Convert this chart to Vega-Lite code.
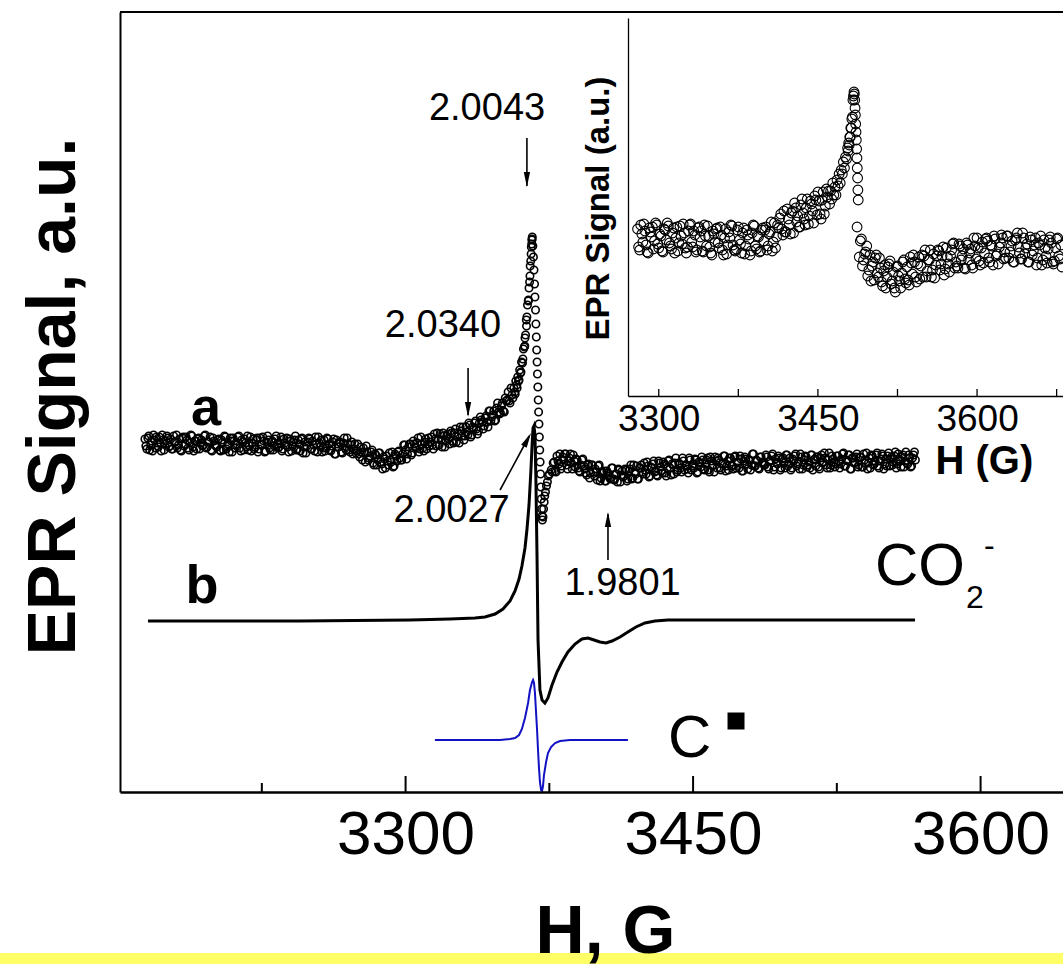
{
"$schema":"https://vega.github.io/schema/vega-lite/v6.json",
"width":943,"height":780,
"autosize":{"type":"none"},
"padding":{"left":120,"top":12,"right":0,"bottom":172},
"background":"white",
"config":{"view":{"stroke":null},"font":"Liberation Sans","axis":{"grid":false,"domainColor":"black","labelColor":"black","titleColor":"black","tickColor":"black"}},
"datasets":{
"a":[
{"H":3164,"v":353},{"H":3165,"v":343},{"H":3166,"v":356},{"H":3167,"v":347},{"H":3168,"v":341},{"H":3169,"v":352},{"H":3170,"v":355},{"H":3171,"v":345},{"H":3172,"v":349},{"H":3173,"v":357},{"H":3174,"v":342},{"H":3175,"v":351},{"H":3176,"v":354},{"H":3177,"v":346},{"H":3178,"v":343},{"H":3179,"v":356},{"H":3180,"v":350},{"H":3181,"v":344},{"H":3182,"v":353},{"H":3183,"v":341},{"H":3184,"v":355},{"H":3185,"v":348},{"H":3186,"v":352},{"H":3187,"v":342},{"H":3188,"v":357},{"H":3189,"v":345},{"H":3190,"v":351},{"H":3191,"v":343},{"H":3192,"v":354},{"H":3193,"v":349},{"H":3194,"v":346},{"H":3195,"v":356},{"H":3196,"v":344},{"H":3197,"v":350},{"H":3198,"v":355},{"H":3199,"v":341},
{"H":3200,"v":351},{"H":3201,"v":346},{"H":3202,"v":352},{"H":3203,"v":342},{"H":3204,"v":352},{"H":3205,"v":342},{"H":3206,"v":355},{"H":3207,"v":346},{"H":3208,"v":340},{"H":3209,"v":351},{"H":3210,"v":354},{"H":3211,"v":344},{"H":3212,"v":348},{"H":3213,"v":356},{"H":3214,"v":341},{"H":3215,"v":350},{"H":3216,"v":353},{"H":3217,"v":345},{"H":3218,"v":342},{"H":3219,"v":355},{"H":3220,"v":349},{"H":3221,"v":343},{"H":3222,"v":352},{"H":3223,"v":340},{"H":3224,"v":354},{"H":3225,"v":347},{"H":3226,"v":351},{"H":3227,"v":341},{"H":3228,"v":356},{"H":3229,"v":344},{"H":3230,"v":350},{"H":3231,"v":342},{"H":3232,"v":353},{"H":3233,"v":348},{"H":3234,"v":345},{"H":3235,"v":355},{"H":3236,"v":343},{"H":3237,"v":349},{"H":3238,"v":354},{"H":3239,"v":340},{"H":3240,"v":351},{"H":3241,"v":346},{"H":3242,"v":352},{"H":3243,"v":342},{"H":3244,"v":352},
{"H":3245,"v":341},{"H":3246,"v":354},{"H":3247,"v":345},{"H":3248,"v":339},{"H":3249,"v":350},{"H":3250,"v":353},{"H":3251,"v":343},{"H":3252,"v":347},{"H":3253,"v":355},{"H":3254,"v":340},{"H":3255,"v":349},{"H":3256,"v":352},{"H":3257,"v":344},{"H":3258,"v":341},{"H":3259,"v":354},{"H":3260,"v":348},{"H":3261,"v":341},{"H":3262,"v":350},{"H":3263,"v":338},{"H":3264,"v":352},{"H":3265,"v":345},{"H":3266,"v":349},{"H":3267,"v":339},{"H":3268,"v":354},{"H":3269,"v":342},{"H":3270,"v":348},{"H":3271,"v":340},
{"H":3272,"v":350},{"H":3273,"v":343},{"H":3274,"v":339},{"H":3275,"v":348},{"H":3276,"v":335},{"H":3277,"v":340},{"H":3278,"v":344},{"H":3279,"v":330},{"H":3280,"v":340},{"H":3281,"v":334},{"H":3282,"v":340},{"H":3283,"v":329},{"H":3284,"v":338},{"H":3285,"v":327},{"H":3286,"v":339},{"H":3287,"v":330},{"H":3288,"v":323},{"H":3289,"v":333},{"H":3290,"v":336},{"H":3291,"v":327},{"H":3292,"v":332},{"H":3293,"v":340},{"H":3294,"v":326},{"H":3295,"v":336},{"H":3296,"v":340},{"H":3297,"v":334},{"H":3298,"v":332},{"H":3299,"v":347},{"H":3300,"v":342},{"H":3301,"v":338},{"H":3302,"v":348},{"H":3303,"v":337},{"H":3304,"v":351},{"H":3305,"v":345},{"H":3306,"v":349},{"H":3307,"v":340},{"H":3308,"v":355},{"H":3309,"v":344},{"H":3310,"v":350},{"H":3311,"v":343},{"H":3312,"v":354},{"H":3313,"v":350},{"H":3314,"v":347},{"H":3315,"v":358},{"H":3316,"v":346},{"H":3317,"v":353},{"H":3318,"v":358},{"H":3319,"v":345},{"H":3320,"v":356},{"H":3321,"v":351},{"H":3322,"v":358},{"H":3323,"v":348},{"H":3324,"v":359},{"H":3325,"v":349},{"H":3326,"v":363},{"H":3327,"v":355},{"H":3328,"v":349},{"H":3329,"v":361},{"H":3330,"v":365},{"H":3331,"v":356},{"H":3332,"v":360},{"H":3333,"v":369},{"H":3334,"v":355},{"H":3335,"v":365},{"H":3336,"v":369},{"H":3337,"v":363},{"H":3338,"v":361},{"H":3339,"v":375},{"H":3340,"v":370},{"H":3341,"v":366},{"H":3342,"v":376},{"H":3343,"v":365},{"H":3344,"v":381},{"H":3345,"v":375},{"H":3346,"v":381},{"H":3347,"v":372},{"H":3348,"v":389},{"H":3349,"v":378},{"H":3350,"v":386},{"H":3351,"v":381},{"H":3352,"v":394},{"H":3353,"v":392},{"H":3354,"v":391},{"H":3355,"v":404},{"H":3356,"v":394},
{"H":3356.5,"v":404},{"H":3357,"v":400},{"H":3357.2,"v":398},{"H":3357.5,"v":411},{"H":3358,"v":407},{"H":3358.2,"v":404},{"H":3358.5,"v":415},{"H":3359,"v":411},{"H":3359.2,"v":412},{"H":3359.5,"v":422},{"H":3360,"v":419},{"H":3360.2,"v":420},{"H":3360.5,"v":430},{"H":3361,"v":429},{"H":3361.2,"v":433},{"H":3361.5,"v":443},{"H":3362,"v":445},{"H":3362.2,"v":446},{"H":3362.3,"v":454},{"H":3362.6,"v":457},{"H":3363,"v":472},{"H":3363.1,"v":466},{"H":3363.3,"v":475},{"H":3363.6,"v":487},{"H":3364,"v":491},{"H":3364.1,"v":492},{"H":3364.4,"v":504},{"H":3364.7,"v":510},{"H":3364.9,"v":516},{"H":3365,"v":526},{"H":3365.3,"v":531},{"H":3365.5,"v":538},{"H":3365.6,"v":545},{"H":3365.8,"v":548},{"H":3365.9,"v":552},{"H":3366,"v":553},{"H":3366.1,"v":555},
{"H":3366.4,"v":546},{"H":3366.7,"v":535},{"H":3367,"v":522},{"H":3367.3,"v":508},{"H":3367.5,"v":495},{"H":3367.8,"v":482},{"H":3368,"v":468},{"H":3368.2,"v":455},{"H":3368.4,"v":442},{"H":3368.6,"v":430},{"H":3368.8,"v":418},{"H":3369,"v":405},{"H":3369.2,"v":392},{"H":3369.4,"v":380},{"H":3369.6,"v":368},{"H":3369.8,"v":355},{"H":3370,"v":342},{"H":3370.2,"v":330},{"H":3370.4,"v":318},{"H":3370.6,"v":305},{"H":3370.8,"v":293},{"H":3371,"v":283},{"H":3371.2,"v":276},{"H":3371.4,"v":272},
{"H":3371.7,"v":275},{"H":3372,"v":283},{"H":3372.3,"v":290},{"H":3372.6,"v":296},{"H":3373,"v":300},{"H":3373.5,"v":306},{"H":3374,"v":310},{"H":3374.5,"v":316},{"H":3375,"v":318},{"H":3376,"v":322},
{"H":3377,"v":329},{"H":3378,"v":321},{"H":3379,"v":336},{"H":3380,"v":328},{"H":3381,"v":323},{"H":3382,"v":335},{"H":3383,"v":338},{"H":3384,"v":327},{"H":3385,"v":331},{"H":3386,"v":338},{"H":3387,"v":323},{"H":3388,"v":331},{"H":3389,"v":333},{"H":3390,"v":324},{"H":3391,"v":320},{"H":3392,"v":332},{"H":3393,"v":326},{"H":3394,"v":319},{"H":3395,"v":327},{"H":3396,"v":314},{"H":3397,"v":327},{"H":3398,"v":320},{"H":3399,"v":323},{"H":3400,"v":312},{"H":3401,"v":327},{"H":3402,"v":314},{"H":3403,"v":319},{"H":3404,"v":311},{"H":3405,"v":321},{"H":3406,"v":316},{"H":3407,"v":313},{"H":3408,"v":324},{"H":3409,"v":312},{"H":3410,"v":318},{"H":3411,"v":323},{"H":3412,"v":310},{"H":3413,"v":321},{"H":3414,"v":316},{"H":3415,"v":322},{"H":3416,"v":313},{"H":3417,"v":323},{"H":3418,"v":313},{"H":3419,"v":327},{"H":3420,"v":318},{"H":3421,"v":313},{"H":3422,"v":324},{"H":3423,"v":327},{"H":3424,"v":318},{"H":3425,"v":322},
{"H":3426,"v":330},{"H":3427,"v":315},{"H":3428,"v":325},{"H":3429,"v":328},{"H":3430,"v":320},{"H":3431,"v":317},{"H":3432,"v":331},{"H":3433,"v":325},{"H":3434,"v":319},{"H":3435,"v":328},{"H":3436,"v":316},{"H":3437,"v":331},{"H":3438,"v":324},{"H":3439,"v":328},{"H":3440,"v":318},{"H":3441,"v":334},{"H":3442,"v":322},{"H":3443,"v":328},{"H":3444,"v":320},{"H":3445,"v":331},{"H":3446,"v":326},{"H":3447,"v":323},{"H":3448,"v":334},{"H":3449,"v":322},{"H":3450,"v":328},{"H":3451,"v":333},{"H":3452,"v":319},{"H":3453,"v":330},{"H":3454,"v":325},
{"H":3455,"v":332},{"H":3456,"v":322},{"H":3457,"v":332},{"H":3458,"v":322},{"H":3459,"v":335},{"H":3460,"v":326},{"H":3461,"v":320},{"H":3462,"v":331},{"H":3463,"v":334},{"H":3464,"v":324},{"H":3465,"v":328},{"H":3466,"v":336},{"H":3467,"v":321},{"H":3468,"v":331},{"H":3469,"v":334},{"H":3470,"v":326},{"H":3471,"v":323},{"H":3472,"v":336},{"H":3473,"v":330},{"H":3474,"v":324},{"H":3475,"v":333},{"H":3476,"v":321},{"H":3477,"v":335},{"H":3478,"v":328},{"H":3479,"v":332},{"H":3480,"v":322},{"H":3481,"v":338},{"H":3482,"v":326},{"H":3483,"v":332},{"H":3484,"v":324},{"H":3485,"v":335},{"H":3486,"v":330},{"H":3487,"v":327},{"H":3488,"v":337},{"H":3489,"v":325},{"H":3490,"v":331},{"H":3491,"v":336},{"H":3492,"v":322},
{"H":3493,"v":333},{"H":3494,"v":328},{"H":3495,"v":334},{"H":3496,"v":324},{"H":3497,"v":334},{"H":3498,"v":324},{"H":3499,"v":337},{"H":3500,"v":328},{"H":3501,"v":322},{"H":3502,"v":333},{"H":3503,"v":336},{"H":3504,"v":326},{"H":3505,"v":330},{"H":3506,"v":338},{"H":3507,"v":323},{"H":3508,"v":332},{"H":3509,"v":335},{"H":3510,"v":327},{"H":3511,"v":324},{"H":3512,"v":337},{"H":3513,"v":332},{"H":3514,"v":326},{"H":3515,"v":335},{"H":3516,"v":323},{"H":3517,"v":337},{"H":3518,"v":330},{"H":3519,"v":334},{"H":3520,"v":324},{"H":3521,"v":339},{"H":3522,"v":327},{"H":3523,"v":333},{"H":3524,"v":325},{"H":3525,"v":336},{"H":3526,"v":331},{"H":3527,"v":328},{"H":3528,"v":338},{"H":3529,"v":326},{"H":3530,"v":332},{"H":3531,"v":337},{"H":3532,"v":323},
{"H":3533,"v":334},{"H":3534,"v":329},{"H":3535,"v":335},{"H":3536,"v":325},{"H":3537,"v":335},{"H":3538,"v":325},{"H":3539,"v":338},{"H":3540,"v":329},{"H":3541,"v":323},{"H":3542,"v":334},{"H":3543,"v":337},{"H":3544,"v":327},{"H":3545,"v":331},{"H":3546,"v":339},{"H":3547,"v":324},{"H":3548,"v":333},{"H":3549,"v":336},{"H":3550,"v":328},{"H":3551,"v":326},{"H":3552,"v":339},{"H":3553,"v":333},{"H":3554,"v":327},{"H":3555,"v":336},{"H":3556,"v":324},{"H":3557,"v":338},{"H":3558,"v":331},{"H":3559,"v":335},{"H":3560,"v":325},{"H":3561,"v":340},{"H":3562,"v":328},{"H":3563,"v":334},{"H":3564,"v":326},{"H":3565,"v":337},{"H":3566,"v":332}
],
"a2":[
{"H":3164.5,"v":346},{"H":3165.5,"v":354},{"H":3166.5,"v":342},{"H":3167.5,"v":351},{"H":3168.5,"v":357},{"H":3169.5,"v":344},{"H":3170.5,"v":349},{"H":3171.5,"v":355},{"H":3172.5,"v":341},{"H":3173.5,"v":352},{"H":3174.5,"v":348},{"H":3175.5,"v":356},{"H":3176.5,"v":345},{"H":3177.5,"v":353},{"H":3178.5,"v":343},{"H":3179.5,"v":350},{"H":3180.5,"v":357},{"H":3181.5,"v":347},{"H":3182.5,"v":342},{"H":3183.5,"v":354},{"H":3184.5,"v":346},{"H":3185.5,"v":355},{"H":3186.5,"v":344},{"H":3187.5,"v":349},{"H":3188.5,"v":356},{"H":3189.5,"v":341},{"H":3190.5,"v":351},{"H":3191.5,"v":353},{"H":3192.5,"v":343},{"H":3193.5,"v":352},{"H":3194.5,"v":347},{"H":3195.5,"v":357},{"H":3196.5,"v":345},{"H":3197.5,"v":350},{"H":3198.5,"v":342},{"H":3199.5,"v":354},
{"H":3200.5,"v":347},{"H":3201.5,"v":345},{"H":3202.5,"v":353},{"H":3203.5,"v":341},{"H":3204.5,"v":350},{"H":3205.5,"v":356},{"H":3206.5,"v":343},{"H":3207.5,"v":348},{"H":3208.5,"v":354},{"H":3209.5,"v":340},{"H":3210.5,"v":351},{"H":3211.5,"v":347},{"H":3212.5,"v":355},{"H":3213.5,"v":344},{"H":3214.5,"v":352},{"H":3215.5,"v":342},{"H":3216.5,"v":349},{"H":3217.5,"v":356},{"H":3218.5,"v":346},{"H":3219.5,"v":341},{"H":3220.5,"v":353},{"H":3221.5,"v":345},{"H":3222.5,"v":354},{"H":3223.5,"v":343},{"H":3224.5,"v":348},{"H":3225.5,"v":355},{"H":3226.5,"v":340},{"H":3227.5,"v":350},{"H":3228.5,"v":352},{"H":3229.5,"v":342},{"H":3230.5,"v":351},{"H":3231.5,"v":346},{"H":3232.5,"v":356},{"H":3233.5,"v":344},{"H":3234.5,"v":349},{"H":3235.5,"v":341},{"H":3236.5,"v":353},{"H":3237.5,"v":347},{"H":3238.5,"v":345},{"H":3239.5,"v":353},{"H":3240.5,"v":341},{"H":3241.5,"v":350},{"H":3242.5,"v":356},{"H":3243.5,"v":343},{"H":3244.5,"v":348},
{"H":3245.5,"v":353},{"H":3246.5,"v":339},{"H":3247.5,"v":350},{"H":3248.5,"v":346},{"H":3249.5,"v":354},{"H":3250.5,"v":343},{"H":3251.5,"v":351},{"H":3252.5,"v":341},{"H":3253.5,"v":348},{"H":3254.5,"v":355},{"H":3255.5,"v":345},{"H":3256.5,"v":340},{"H":3257.5,"v":352},{"H":3258.5,"v":344},{"H":3259.5,"v":353},{"H":3260.5,"v":342},{"H":3261.5,"v":346},{"H":3262.5,"v":353},{"H":3263.5,"v":338},{"H":3264.5,"v":348},{"H":3265.5,"v":350},{"H":3266.5,"v":340},{"H":3267.5,"v":349},{"H":3268.5,"v":344},{"H":3269.5,"v":354},{"H":3270.5,"v":342},{"H":3271.5,"v":347},
{"H":3272.5,"v":338},{"H":3273.5,"v":348},{"H":3274.5,"v":341},{"H":3275.5,"v":338},{"H":3276.5,"v":345},{"H":3277.5,"v":332},{"H":3278.5,"v":340},{"H":3279.5,"v":346},{"H":3280.5,"v":332},{"H":3281.5,"v":336},{"H":3282.5,"v":342},{"H":3283.5,"v":327},{"H":3284.5,"v":337},{"H":3285.5,"v":332},{"H":3286.5,"v":339},{"H":3287.5,"v":328},{"H":3288.5,"v":335},{"H":3289.5,"v":324},{"H":3290.5,"v":331},{"H":3291.5,"v":339},{"H":3292.5,"v":330},{"H":3293.5,"v":325},{"H":3294.5,"v":338},{"H":3295.5,"v":331},{"H":3296.5,"v":341},{"H":3297.5,"v":332},{"H":3298.5,"v":338},{"H":3299.5,"v":347},{"H":3300.5,"v":333},{"H":3301.5,"v":345},{"H":3302.5,"v":348},{"H":3303.5,"v":339},{"H":3304.5,"v":348},{"H":3305.5,"v":344},{"H":3306.5,"v":354},{"H":3307.5,"v":343},{"H":3308.5,"v":348},{"H":3309.5,"v":341},{"H":3310.5,"v":353},{"H":3311.5,"v":348},{"H":3312.5,"v":346},{"H":3313.5,"v":355},{"H":3314.5,"v":343},{"H":3315.5,"v":353},{"H":3316.5,"v":359},{"H":3317.5,"v":347},{"H":3318.5,"v":352},{"H":3319.5,"v":359},{"H":3320.5,"v":345},{"H":3321.5,"v":356},{"H":3322.5,"v":353},{"H":3323.5,"v":361},{"H":3324.5,"v":351},{"H":3325.5,"v":359},{"H":3326.5,"v":350},{"H":3327.5,"v":358},{"H":3328.5,"v":365},{"H":3329.5,"v":356},{"H":3330.5,"v":352},{"H":3331.5,"v":365},{"H":3332.5,"v":357},{"H":3333.5,"v":367},{"H":3334.5,"v":357},{"H":3335.5,"v":363},{"H":3336.5,"v":371},{"H":3337.5,"v":358},{"H":3338.5,"v":369},{"H":3339.5,"v":372},{"H":3340.5,"v":363},{"H":3341.5,"v":374},{"H":3342.5,"v":370},{"H":3343.5,"v":381},{"H":3344.5,"v":371},{"H":3345.5,"v":377},{"H":3346.5,"v":371},{"H":3347.5,"v":384},{"H":3348.5,"v":380},{"H":3349.5,"v":379},{"H":3350.5,"v":389},{"H":3351.5,"v":380},{"H":3352.5,"v":391},{"H":3353.5,"v":400},{"H":3354.5,"v":389},{"H":3355.5,"v":397},
{"H":3376.5,"v":320},{"H":3377.5,"v":330},{"H":3378.5,"v":320},{"H":3379.5,"v":331},{"H":3380.5,"v":338},{"H":3381.5,"v":326},{"H":3382.5,"v":332},{"H":3383.5,"v":338},{"H":3384.5,"v":323},{"H":3385.5,"v":334},{"H":3386.5,"v":329},{"H":3387.5,"v":337},{"H":3388.5,"v":325},{"H":3389.5,"v":332},{"H":3390.5,"v":321},{"H":3391.5,"v":327},{"H":3392.5,"v":333},{"H":3393.5,"v":323},{"H":3394.5,"v":317},{"H":3395.5,"v":328},{"H":3396.5,"v":319},{"H":3397.5,"v":327},{"H":3398.5,"v":316},{"H":3399.5,"v":320},{"H":3400.5,"v":326},{"H":3401.5,"v":311},{"H":3402.5,"v":320},{"H":3403.5,"v":321},{"H":3404.5,"v":311},{"H":3405.5,"v":319},{"H":3406.5,"v":314},{"H":3407.5,"v":324},{"H":3408.5,"v":313},{"H":3409.5,"v":318},{"H":3410.5,"v":310},{"H":3411.5,"v":322},{"H":3412.5,"v":317},{"H":3413.5,"v":315},{"H":3414.5,"v":323},{"H":3415.5,"v":311},{"H":3416.5,"v":321},{"H":3417.5,"v":327},{"H":3418.5,"v":314},{"H":3419.5,"v":320},{"H":3420.5,"v":326},{"H":3421.5,"v":313},{"H":3422.5,"v":324},{"H":3423.5,"v":320},{"H":3424.5,"v":329},{"H":3425.5,"v":318},{"H":3426.5,"v":326},{"H":3427.5,"v":316},{"H":3428.5,"v":324},{"H":3429.5,"v":331},{"H":3430.5,"v":321},{"H":3431.5,"v":316},{"H":3432.5,"v":329},{"H":3433.5,"v":321},{"H":3434.5,"v":330},{"H":3435.5,"v":319},{"H":3436.5,"v":324},{"H":3437.5,"v":332},{"H":3438.5,"v":317},{"H":3439.5,"v":327},{"H":3440.5,"v":329},{"H":3441.5,"v":320},{"H":3442.5,"v":329},{"H":3443.5,"v":324},{"H":3444.5,"v":334},{"H":3445.5,"v":322},{"H":3446.5,"v":327},{"H":3447.5,"v":319},{"H":3448.5,"v":332},{"H":3449.5,"v":326},{"H":3450.5,"v":324},{"H":3451.5,"v":332},{"H":3452.5,"v":320},{"H":3453.5,"v":329},{"H":3454.5,"v":335},
{"H":3455.5,"v":323},{"H":3456.5,"v":328},{"H":3457.5,"v":334},{"H":3458.5,"v":320},{"H":3459.5,"v":331},{"H":3460.5,"v":327},{"H":3461.5,"v":335},{"H":3462.5,"v":324},{"H":3463.5,"v":332},{"H":3464.5,"v":322},{"H":3465.5,"v":329},{"H":3466.5,"v":336},{"H":3467.5,"v":326},{"H":3468.5,"v":322},{"H":3469.5,"v":334},{"H":3470.5,"v":326},{"H":3471.5,"v":335},{"H":3472.5,"v":324},{"H":3473.5,"v":329},{"H":3474.5,"v":336},{"H":3475.5,"v":321},{"H":3476.5,"v":331},{"H":3477.5,"v":333},{"H":3478.5,"v":323},{"H":3479.5,"v":332},{"H":3480.5,"v":327},{"H":3481.5,"v":338},{"H":3482.5,"v":326},{"H":3483.5,"v":331},{"H":3484.5,"v":323},{"H":3485.5,"v":335},{"H":3486.5,"v":329},{"H":3487.5,"v":327},{"H":3488.5,"v":335},{"H":3489.5,"v":323},{"H":3490.5,"v":332},{"H":3491.5,"v":338},{"H":3492.5,"v":325},{"H":3493.5,"v":330},{"H":3494.5,"v":336},{"H":3495.5,"v":322},{"H":3496.5,"v":333},{"H":3497.5,"v":329},{"H":3498.5,"v":337},{"H":3499.5,"v":326},{"H":3500.5,"v":334},{"H":3501.5,"v":324},{"H":3502.5,"v":331},{"H":3503.5,"v":338},{"H":3504.5,"v":328},{"H":3505.5,"v":323},{"H":3506.5,"v":335},{"H":3507.5,"v":327},{"H":3508.5,"v":336},{"H":3509.5,"v":325},{"H":3510.5,"v":330},{"H":3511.5,"v":337},{"H":3512.5,"v":322},
{"H":3513.5,"v":333},{"H":3514.5,"v":335},{"H":3515.5,"v":325},{"H":3516.5,"v":334},{"H":3517.5,"v":329},{"H":3518.5,"v":339},{"H":3519.5,"v":327},{"H":3520.5,"v":332},{"H":3521.5,"v":324},{"H":3522.5,"v":336},{"H":3523.5,"v":330},{"H":3524.5,"v":328},{"H":3525.5,"v":336},{"H":3526.5,"v":324},{"H":3527.5,"v":333},{"H":3528.5,"v":339},{"H":3529.5,"v":326},{"H":3530.5,"v":331},{"H":3531.5,"v":337},{"H":3532.5,"v":323},{"H":3533.5,"v":334},{"H":3534.5,"v":330},{"H":3535.5,"v":338},{"H":3536.5,"v":327},{"H":3537.5,"v":335},{"H":3538.5,"v":325},{"H":3539.5,"v":332},{"H":3540.5,"v":339},{"H":3541.5,"v":329},{"H":3542.5,"v":324},{"H":3543.5,"v":336},{"H":3544.5,"v":328},{"H":3545.5,"v":337},{"H":3546.5,"v":326},{"H":3547.5,"v":331},{"H":3548.5,"v":338},{"H":3549.5,"v":323},{"H":3550.5,"v":333},{"H":3551.5,"v":336},{"H":3552.5,"v":326},{"H":3553.5,"v":335},{"H":3554.5,"v":330},{"H":3555.5,"v":340},{"H":3556.5,"v":328},{"H":3557.5,"v":333},{"H":3558.5,"v":325},{"H":3559.5,"v":337},{"H":3560.5,"v":331},{"H":3561.5,"v":329},{"H":3562.5,"v":337},{"H":3563.5,"v":325},{"H":3564.5,"v":334},{"H":3565.5,"v":340}
],
"b":[
{"H":3165.6,"v":171},{"H":3244.9,"v":171},{"H":3302.3,"v":172},{"H":3323.2,"v":173},{"H":3336.2,"v":174},{"H":3341.4,"v":175},{"H":3346.7,"v":178},{"H":3350.8,"v":183},{"H":3354.5,"v":191},{"H":3357.1,"v":201},{"H":3359.2,"v":213},{"H":3360.7,"v":226},{"H":3362.3,"v":244},{"H":3363.3,"v":262},{"H":3364.4,"v":287},{"H":3365.4,"v":322},{"H":3366.0,"v":347},{"H":3366.5,"v":364},{"H":3367.0,"v":366},{"H":3367.5,"v":357},{"H":3368.0,"v":312},{"H":3368.6,"v":232},{"H":3369.1,"v":152},{"H":3370.1,"v":102},{"H":3371.2,"v":92},{"H":3372.7,"v":89},{"H":3374.3,"v":94},{"H":3376.4,"v":107},{"H":3379.0,"v":120},{"H":3381.6,"v":130},{"H":3384.7,"v":140},{"H":3388.4,"v":148},{"H":3392.0,"v":153},{"H":3395.2,"v":154},{"H":3398.3,"v":152},{"H":3401.4,"v":150},{"H":3404.6,"v":149},{"H":3407.7,"v":151},{"H":3411.9,"v":155},{"H":3416.0,"v":160},{"H":3420.2,"v":165},{"H":3424.9,"v":169},{"H":3430.1,"v":171},{"H":3436.9,"v":172},{"H":3505.8,"v":172},{"H":3565.8,"v":172}
],
"c":[
{"H":3315.3,"v":52},{"H":3328.4,"v":52},{"H":3338.8,"v":52},{"H":3349.3,"v":52},{"H":3354.5,"v":53},{"H":3357.1,"v":54},{"H":3359.2,"v":57},{"H":3360.7,"v":63},{"H":3362.3,"v":74},{"H":3363.9,"v":89},{"H":3364.9,"v":102},{"H":3366.0,"v":110},{"H":3366.5,"v":112},{"H":3367.0,"v":109},{"H":3367.5,"v":99},{"H":3368.0,"v":82},{"H":3368.6,"v":62},{"H":3369.1,"v":42},{"H":3369.6,"v":24},{"H":3370.1,"v":10},{"H":3370.7,"v":2},{"H":3371.2,"v":1},{"H":3371.7,"v":6},{"H":3372.2,"v":17},{"H":3373.3,"v":30},{"H":3374.3,"v":39},{"H":3375.9,"v":45},{"H":3378.0,"v":49},{"H":3380.6,"v":51},{"H":3385.8,"v":52},{"H":3396.2,"v":52},{"H":3406.7,"v":52},{"H":3416.0,"v":52}
],
"ins":[
{"H":3280,"v":167},{"H":3282,"v":146},{"H":3284,"v":162},{"H":3286,"v":172},{"H":3288,"v":151},{"H":3290,"v":143},{"H":3292,"v":164},{"H":3294,"v":169},{"H":3296,"v":155},{"H":3298,"v":171},{"H":3300,"v":148},{"H":3302,"v":160},{"H":3304,"v":144},{"H":3306,"v":166},{"H":3308,"v":173},{"H":3310,"v":153},{"H":3312,"v":147},{"H":3314,"v":168},{"H":3316,"v":158},{"H":3318,"v":145},{"H":3320,"v":170},{"H":3322,"v":152},{"H":3324,"v":163},{"H":3326,"v":143},{"H":3328,"v":165},{"H":3330,"v":172},{"H":3332,"v":149},{"H":3334,"v":161},{"H":3336,"v":146},{"H":3338,"v":169},{"H":3340,"v":165},{"H":3342,"v":144},{"H":3344,"v":160},{"H":3346,"v":170},{"H":3348,"v":149},{"H":3350,"v":141},{"H":3352,"v":162},{"H":3354,"v":167},{"H":3356,"v":153},{"H":3358,"v":169},{"H":3360,"v":146},{"H":3362,"v":158},{"H":3364,"v":142},{"H":3366,"v":164},{"H":3368,"v":171},{"H":3370,"v":151},{"H":3372,"v":145},{"H":3374,"v":166},{"H":3376,"v":156},{"H":3378,"v":143},{"H":3380,"v":168},{"H":3382,"v":150},{"H":3384,"v":161},{"H":3386,"v":141},{"H":3388,"v":163},{"H":3390,"v":170},{"H":3392,"v":147},{"H":3394,"v":159},
{"H":3396,"v":145},{"H":3398,"v":168},{"H":3400,"v":166},{"H":3402,"v":146},{"H":3404,"v":162},{"H":3406,"v":174},{"H":3408,"v":154},{"H":3410,"v":148},{"H":3412,"v":171},{"H":3414,"v":178},{"H":3416,"v":167},{"H":3418,"v":185},{"H":3420,"v":164},{"H":3422,"v":177},{"H":3424,"v":162},{"H":3426,"v":185},{"H":3428,"v":193},{"H":3430,"v":174},{"H":3432,"v":169},{"H":3434,"v":191},{"H":3436,"v":183},{"H":3438,"v":171},{"H":3440,"v":197},{"H":3442,"v":180},{"H":3444,"v":192},{"H":3446,"v":173},{"H":3448,"v":196},{"H":3450,"v":204},{"H":3452,"v":182},{"H":3454,"v":196},{"H":3456,"v":182},{"H":3458,"v":207},
{"H":3460,"v":205},{"H":3461,"v":192},{"H":3462,"v":205},{"H":3463,"v":197},{"H":3464,"v":213},{"H":3465,"v":201},{"H":3466,"v":209},{"H":3467,"v":201},{"H":3468,"v":216},{"H":3469,"v":210},{"H":3470,"v":222},{"H":3471,"v":213},{"H":3472,"v":226},{"H":3473,"v":222},{"H":3474,"v":234},{"H":3475,"v":228},{"H":3476,"v":239},{"H":3477,"v":237},{"H":3478,"v":248},{"H":3478.5,"v":245},{"H":3479,"v":253},{"H":3479.5,"v":251},{"H":3480,"v":259},{"H":3480.5,"v":259},{"H":3481,"v":268},{"H":3481.5,"v":268},{"H":3482,"v":277},{"H":3482.5,"v":279},{"H":3483,"v":296},{"H":3483.5,"v":300},{"H":3484,"v":304},{"H":3484.3,"v":302},
{"H":3484.7,"v":296},{"H":3485.0,"v":288},{"H":3485.3,"v":281},{"H":3485.6,"v":272},{"H":3485.9,"v":264},{"H":3486.2,"v":256},{"H":3486.5,"v":247},{"H":3486.8,"v":238},{"H":3487.1,"v":228},{"H":3487.4,"v":218},{"H":3487.7,"v":206},{"H":3488.0,"v":196},{"H":3486.9,"v":169},
{"H":3490,"v":155},{"H":3492,"v":130},{"H":3494,"v":142},{"H":3496,"v":150},{"H":3498,"v":126},{"H":3500,"v":115},{"H":3502,"v":134},{"H":3504,"v":138},{"H":3506,"v":123},{"H":3508,"v":138},{"H":3510,"v":114},{"H":3512,"v":125},{"H":3514,"v":108},{"H":3516,"v":129},{"H":3518,"v":135},{"H":3520,"v":115},{"H":3522,"v":108},{"H":3524,"v":129},{"H":3526,"v":120},{"H":3528,"v":108},{"H":3530,"v":134},{"H":3532,"v":117},{"H":3534,"v":129},{"H":3536,"v":111},{"H":3538,"v":133},{"H":3540,"v":141},{"H":3542,"v":119},{"H":3544,"v":132},{"H":3546,"v":117},{"H":3548,"v":141},{"H":3550,"v":140},{"H":3552,"v":119},{"H":3554,"v":136},{"H":3556,"v":146},{"H":3558,"v":126},{"H":3560,"v":118},{"H":3562,"v":140},{"H":3564,"v":145},{"H":3566,"v":132},{"H":3568,"v":149},{"H":3570,"v":127},{"H":3572,"v":139},{"H":3574,"v":124},{"H":3576,"v":146},{"H":3578,"v":153},{"H":3580,"v":134},{"H":3582,"v":128},{"H":3584,"v":150},{"H":3586,"v":140},{"H":3588,"v":128},{"H":3590,"v":153},{"H":3592,"v":136},{"H":3594,"v":147},{"H":3596,"v":128},{"H":3598,"v":150},{"H":3600,"v":158},{"H":3602,"v":135},{"H":3604,"v":148},{"H":3606,"v":133},{"H":3608,"v":157},{"H":3610,"v":155},{"H":3612,"v":134},{"H":3614,"v":150},{"H":3616,"v":160},{"H":3618,"v":140},{"H":3620,"v":132},{"H":3622,"v":153},{"H":3624,"v":158},{"H":3626,"v":144},{"H":3628,"v":160},{"H":3630,"v":138},{"H":3632,"v":150},{"H":3634,"v":134},{"H":3636,"v":156},{"H":3638,"v":163},{"H":3640,"v":143},{"H":3642,"v":137},{"H":3644,"v":158},{"H":3646,"v":148},{"H":3648,"v":134},{"H":3650,"v":159},{"H":3652,"v":141},{"H":3654,"v":151},{"H":3656,"v":131},{"H":3658,"v":153},{"H":3660,"v":160},{"H":3662,"v":136},{"H":3664,"v":148},{"H":3666,"v":133},{"H":3668,"v":156},{"H":3670,"v":153},{"H":3672,"v":132},{"H":3674,"v":148},{"H":3676,"v":158},{"H":3678,"v":137},{"H":3680,"v":129}
],
"ins2":[
{"H":3281,"v":149},{"H":3283,"v":171},{"H":3285,"v":154},{"H":3287,"v":165},{"H":3289,"v":144},{"H":3291,"v":168},{"H":3293,"v":159},{"H":3295,"v":147},{"H":3297,"v":173},{"H":3299,"v":152},{"H":3301,"v":162},{"H":3303,"v":145},{"H":3305,"v":167},{"H":3307,"v":156},{"H":3309,"v":170},{"H":3311,"v":150},{"H":3313,"v":163},{"H":3315,"v":143},{"H":3317,"v":169},{"H":3319,"v":153},{"H":3321,"v":160},{"H":3323,"v":172},{"H":3325,"v":148},{"H":3327,"v":149},{"H":3329,"v":171},{"H":3331,"v":154},{"H":3333,"v":165},{"H":3335,"v":144},{"H":3337,"v":168},{"H":3339,"v":159},{"H":3341,"v":145},{"H":3343,"v":171},{"H":3345,"v":150},{"H":3347,"v":160},{"H":3349,"v":143},{"H":3351,"v":165},{"H":3353,"v":154},{"H":3355,"v":168},{"H":3357,"v":148},{"H":3359,"v":161},{"H":3361,"v":141},{"H":3363,"v":167},{"H":3365,"v":151},{"H":3367,"v":158},{"H":3369,"v":170},{"H":3371,"v":146},{"H":3373,"v":147},{"H":3375,"v":169},{"H":3377,"v":152},{"H":3379,"v":163},{"H":3381,"v":142},{"H":3383,"v":166},{"H":3385,"v":157},{"H":3387,"v":145},{"H":3389,"v":171},{"H":3391,"v":150},{"H":3393,"v":160},{"H":3395,"v":144},{"H":3397,"v":166},{"H":3399,"v":155},{"H":3401,"v":169},{"H":3403,"v":150},{"H":3405,"v":164},{"H":3407,"v":145},{"H":3409,"v":173},{"H":3411,"v":159},{"H":3413,"v":168},{"H":3415,"v":182},{"H":3417,"v":161},{"H":3419,"v":164},{"H":3421,"v":187},{"H":3423,"v":171},{"H":3425,"v":183},{"H":3427,"v":163},{"H":3429,"v":188},{"H":3431,"v":180},{"H":3433,"v":169},{"H":3435,"v":197},{"H":3437,"v":177},{"H":3439,"v":188},{"H":3441,"v":172},{"H":3443,"v":195},{"H":3445,"v":185},{"H":3447,"v":200},{"H":3449,"v":181},{"H":3451,"v":195},{"H":3453,"v":177},{"H":3455,"v":204},{"H":3457,"v":190},{"H":3459,"v":199},
{"H":3489,"v":139},{"H":3491,"v":157},{"H":3493,"v":136},{"H":3495,"v":144},{"H":3497,"v":120},{"H":3499,"v":141},{"H":3501,"v":130},{"H":3503,"v":116},{"H":3505,"v":141},{"H":3507,"v":119},{"H":3509,"v":128},{"H":3511,"v":110},{"H":3513,"v":131},{"H":3515,"v":119},{"H":3517,"v":132},{"H":3519,"v":112},{"H":3521,"v":124},{"H":3523,"v":104},{"H":3525,"v":130},{"H":3527,"v":115},{"H":3529,"v":123},{"H":3531,"v":136},{"H":3533,"v":113},{"H":3535,"v":116},{"H":3537,"v":139},{"H":3539,"v":122},{"H":3541,"v":134},{"H":3543,"v":114},{"H":3545,"v":139},{"H":3547,"v":130},{"H":3549,"v":119},{"H":3551,"v":146},{"H":3553,"v":125},{"H":3555,"v":136},{"H":3557,"v":119},{"H":3559,"v":142},{"H":3561,"v":131},{"H":3563,"v":146},{"H":3565,"v":126},{"H":3567,"v":140},{"H":3569,"v":121},{"H":3571,"v":148},{"H":3573,"v":132},{"H":3575,"v":140},{"H":3577,"v":152},{"H":3579,"v":128},{"H":3581,"v":130},{"H":3583,"v":152},{"H":3585,"v":136},{"H":3587,"v":147},{"H":3589,"v":127},{"H":3591,"v":151},{"H":3593,"v":143},{"H":3595,"v":131},{"H":3597,"v":158},{"H":3599,"v":137},{"H":3601,"v":148},{"H":3603,"v":131},{"H":3605,"v":154},{"H":3607,"v":143},{"H":3609,"v":158},{"H":3611,"v":138},{"H":3613,"v":151},{"H":3615,"v":131},{"H":3617,"v":157},{"H":3619,"v":142},{"H":3621,"v":149},{"H":3623,"v":161},{"H":3625,"v":137},{"H":3627,"v":138},{"H":3629,"v":160},{"H":3631,"v":144},{"H":3633,"v":155},{"H":3635,"v":134},{"H":3637,"v":158},{"H":3639,"v":149},{"H":3641,"v":137},{"H":3643,"v":163},{"H":3645,"v":142},{"H":3647,"v":152},{"H":3649,"v":134},{"H":3651,"v":156},{"H":3653,"v":145},{"H":3655,"v":158},{"H":3657,"v":138},{"H":3659,"v":151},{"H":3661,"v":131},{"H":3663,"v":156},{"H":3665,"v":140},{"H":3667,"v":147},{"H":3669,"v":159},{"H":3671,"v":134},{"H":3673,"v":135},{"H":3675,"v":157},{"H":3677,"v":140},{"H":3679,"v":151}
],
"majT":[{"H":3300},{"H":3450},{"H":3600}],
"minT":[{"H":3225},{"H":3375},{"H":3525}],
"insT":[{"H":3300},{"H":3375},{"H":3450},{"H":3525},{"H":3600},{"H":3675}],
"notes":[{"H":3342.5,"v":672,"t":"2.0043"},{"H":3319.5,"v":455,"t":"2.0340"},{"H":3324,"v":270,"t":"2.0027"},{"H":3413.2,"v":197,"t":"1.9801"}],
"arrows":[{"H":3363.3,"v":654,"H2":3363.3,"v2":606},{"H":3332.6,"v":424,"H2":3332.6,"v2":377},{"H":3349.3,"v":302,"H2":3364.5,"v2":356},{"H":3405.6,"v":232,"H2":3405.6,"v2":278}],
"heads":[{"H":3363.3,"v":612.5,"a":180},{"H":3332.6,"v":382.5,"a":180},{"H":3363.6,"v":352.4,"a":28.5},{"H":3405.6,"v":272.5,"a":0}],
"ab":[{"H":3195.9,"v":367,"t":"a"},{"H":3193.8,"v":189,"t":"b"}],
"big":[{"H":3544.9,"v":207,"t":"CO"},{"H":3436.9,"v":35,"t":"C"}],
"small":[{"H":3592.4,"v":184,"t":"2"},{"H":3601.8,"v":236,"t":"-"}],
"sq":[{"H":3472.4,"v":71}]
},
"layer":[
{"layer":[
{"data":{"name":"b"},"mark":{"type":"line","color":"black","strokeWidth":3},
 "encoding":{
  "x":{"field":"H","type":"quantitative","scale":{"domain":[3151,3643],"nice":false,"zero":false},
   "axis":{"values":[3300,3450,3600],"format":"d","ticks":false,"tickSize":0,"domainWidth":2.5,"labelFont":"Liberation Sans","labelFontSize":62,"labelBaseline":"alphabetic","labelPadding":61,"labelFlush":false,"labelOverlap":false,"zindex":1,
    "title":"H, G","titleFont":"Liberation Sans","titleFontSize":68,"titleFontWeight":"bold","titleX":485,"titleY":160,"titleAlign":"center","titleBaseline":"alphabetic"}},
  "y":{"field":"v","type":"quantitative","scale":{"domain":[0,780],"nice":false,"zero":false},
   "axis":{"labels":false,"ticks":false,"tickSize":0,"domainWidth":2,
    "title":"EPR Signal, a.u.","titleFont":"Liberation Sans","titleFontSize":68,"titleFontWeight":"bold","titleX":-46,"titleY":384,"titleAlign":"center","titleBaseline":"alphabetic","titleAngle":-90}}}},
{"data":{"values":[{}]},"mark":{"type":"rect","color":"#ffff66"},
 "encoding":{"x":{"datum":3080,"type":"quantitative"},"x2":{"datum":3650},"y":{"datum":-161,"type":"quantitative"},"y2":{"datum":-176}}},
{"data":{"values":[{}]},"mark":{"type":"rule","color":"black","strokeWidth":2},
 "encoding":{"y":{"datum":780,"type":"quantitative"}}},
{"data":{"name":"majT"},"mark":{"type":"rule","color":"black","strokeWidth":2},
 "encoding":{"x":{"field":"H","type":"quantitative"},"y":{"datum":0,"type":"quantitative"},"y2":{"datum":16}}},
{"data":{"name":"minT"},"mark":{"type":"rule","color":"black","strokeWidth":2},
 "encoding":{"x":{"field":"H","type":"quantitative"},"y":{"datum":0,"type":"quantitative"},"y2":{"datum":9}}},
{"data":{"name":"a"},"mark":{"type":"point","filled":false,"color":"black","strokeWidth":1.6,"size":55,"opacity":1},
 "encoding":{"x":{"field":"H","type":"quantitative"},"y":{"field":"v","type":"quantitative"}}},
{"data":{"name":"a2"},"mark":{"type":"point","filled":false,"color":"black","strokeWidth":1.6,"size":55,"opacity":1},
 "encoding":{"x":{"field":"H","type":"quantitative"},"y":{"field":"v","type":"quantitative"}}},
{"data":{"name":"c"},"mark":{"type":"line","color":"#1212c4","strokeWidth":2},
 "encoding":{"x":{"field":"H","type":"quantitative"},"y":{"field":"v","type":"quantitative"}}},
{"data":{"name":"arrows"},"mark":{"type":"rule","color":"black","strokeWidth":1.6},
 "encoding":{"x":{"field":"H","type":"quantitative"},"y":{"field":"v","type":"quantitative"},"x2":{"field":"H2"},"y2":{"field":"v2"}}},
{"data":{"name":"heads"},"mark":{"type":"point","shape":"M0,-1L-0.42,1L0.42,1Z","filled":true,"color":"black","size":225,"opacity":1,"strokeWidth":0},
 "encoding":{"x":{"field":"H","type":"quantitative"},"y":{"field":"v","type":"quantitative"},"angle":{"field":"a","type":"quantitative","scale":null}}},
{"data":{"name":"notes"},"mark":{"type":"text","font":"Liberation Sans","fontSize":38,"align":"center","baseline":"alphabetic","color":"black"},
 "encoding":{"x":{"field":"H","type":"quantitative"},"y":{"field":"v","type":"quantitative"},"text":{"field":"t"}}},
{"data":{"name":"ab"},"mark":{"type":"text","font":"Liberation Sans","fontSize":54,"fontWeight":"bold","align":"center","baseline":"alphabetic","color":"black"},
 "encoding":{"x":{"field":"H","type":"quantitative"},"y":{"field":"v","type":"quantitative"},"text":{"field":"t"}}},
{"data":{"name":"big"},"mark":{"type":"text","font":"Liberation Sans","fontSize":60,"align":"left","baseline":"alphabetic","color":"black"},
 "encoding":{"x":{"field":"H","type":"quantitative"},"y":{"field":"v","type":"quantitative"},"text":{"field":"t"}}},
{"data":{"name":"small"},"mark":{"type":"text","font":"Liberation Sans","fontSize":32,"align":"left","baseline":"alphabetic","color":"black"},
 "encoding":{"x":{"field":"H","type":"quantitative"},"y":{"field":"v","type":"quantitative"},"text":{"field":"t"}}},
{"data":{"name":"sq"},"mark":{"type":"point","shape":"square","filled":true,"color":"black","size":289,"opacity":1},
 "encoding":{"x":{"field":"H","type":"quantitative"},"y":{"field":"v","type":"quantitative"}}}
]},
{"layer":[
{"data":{"name":"ins"},"mark":{"type":"point","filled":false,"color":"black","strokeWidth":1.1,"size":95,"opacity":1},
 "encoding":{
  "x":{"field":"H","type":"quantitative","scale":{"domain":[3271,3681],"range":[508,943],"nice":false,"zero":false},
   "axis":{"orient":"bottom","offset":-396,"values":[3300,3450,3600],"format":"d","ticks":false,"tickSize":0,"domainWidth":1.3,"labelFont":"Liberation Sans","labelFontSize":37,"labelBaseline":"alphabetic","labelPadding":34,"labelFlush":false,"labelOverlap":false,
    "title":"H (G)","titleFont":"Liberation Sans","titleFontSize":40,"titleFontWeight":"bold","titleX":815,"titleY":77,"titleAlign":"left","titleBaseline":"alphabetic"}},
  "y":{"field":"v","type":"quantitative","scale":{"domain":[0,378],"range":[384,6],"nice":false,"zero":false},
   "axis":{"orient":"left","offset":-508,"labels":false,"ticks":false,"tickSize":0,"domainWidth":1.3,
    "title":"EPR Signal (a.u.)","titleFont":"Liberation Sans","titleFontSize":33,"titleFontWeight":"bold","titleX":-20,"titleY":196,"titleAlign":"center","titleBaseline":"alphabetic","titleAngle":-90}}}},
{"data":{"name":"ins2"},"mark":{"type":"point","filled":false,"color":"black","strokeWidth":1.1,"size":95,"opacity":1},
 "encoding":{"x":{"field":"H","type":"quantitative"},"y":{"field":"v","type":"quantitative"}}},
{"data":{"name":"insT"},"mark":{"type":"rule","color":"black","strokeWidth":1.3},
 "encoding":{"x":{"field":"H","type":"quantitative"},"y":{"datum":0,"type":"quantitative"},"y2":{"datum":7}}}
]}
],
"resolve":{"scale":{"x":"independent","y":"independent"},"axis":{"x":"independent","y":"independent"}}
}
